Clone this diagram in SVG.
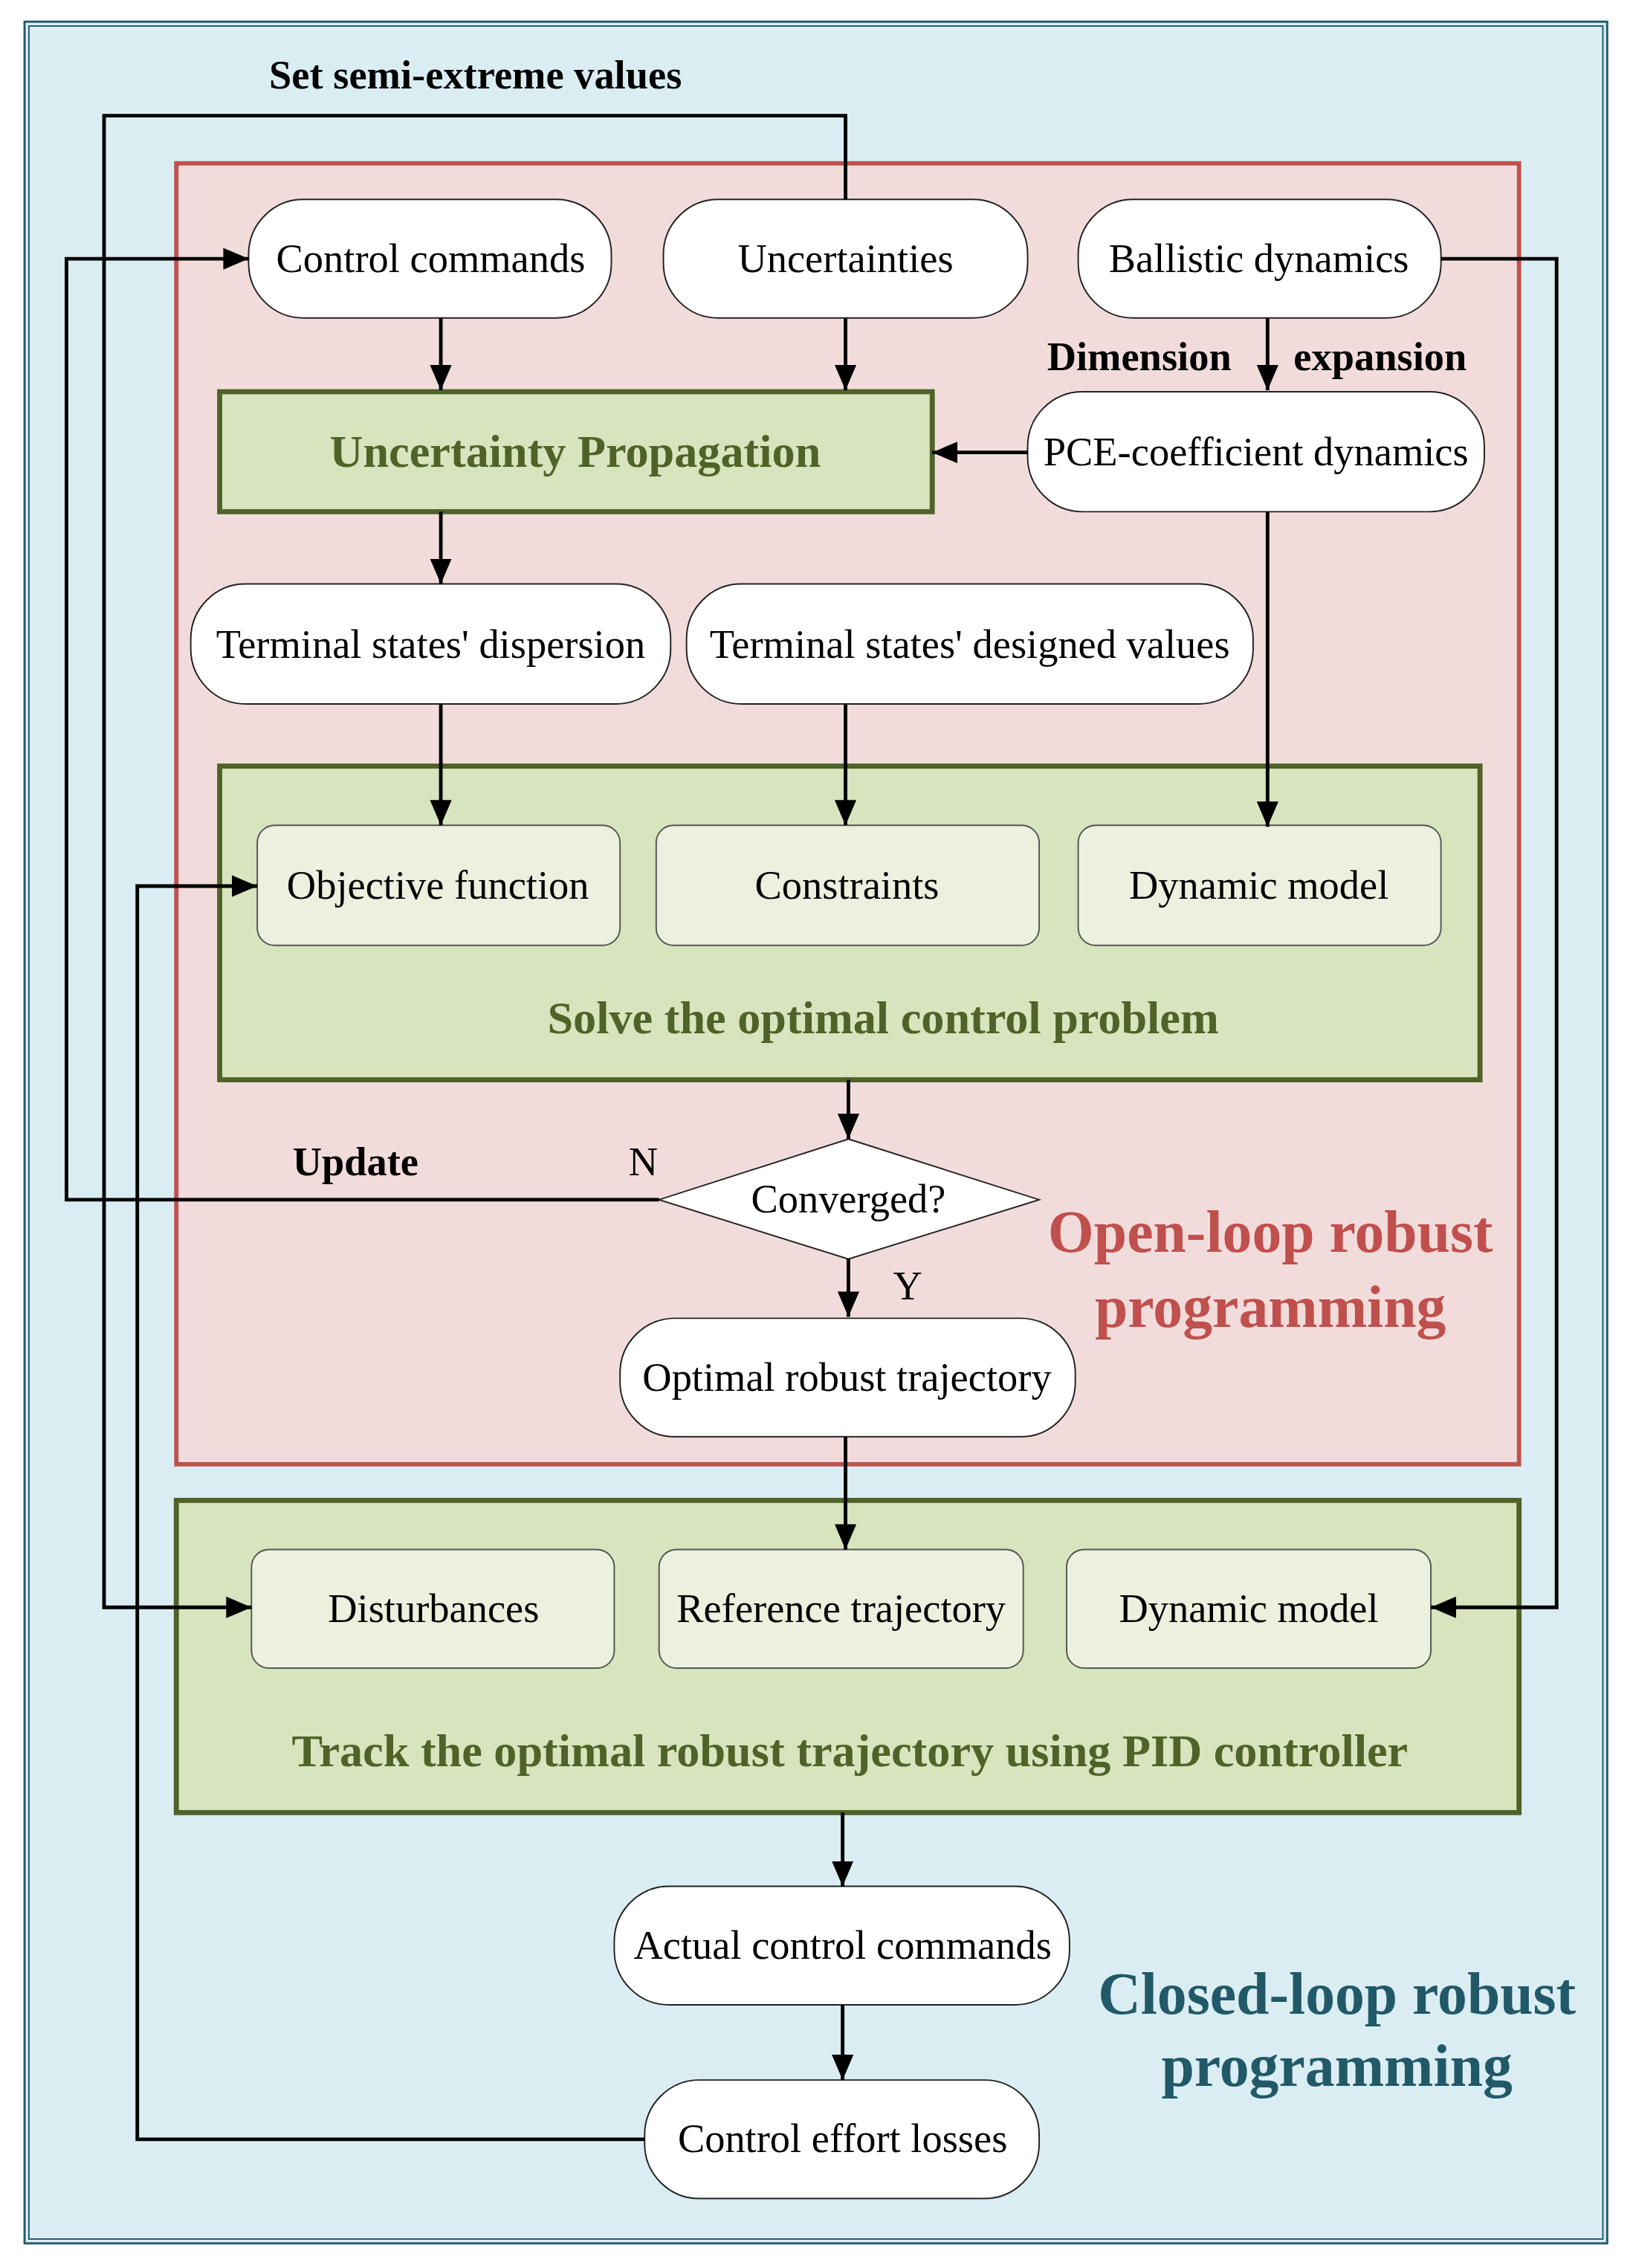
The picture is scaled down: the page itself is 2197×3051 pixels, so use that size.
<svg xmlns="http://www.w3.org/2000/svg" width="2197" height="3051" viewBox="0 0 2197 3051">
<style>
.t{font-family:"Liberation Serif","Times New Roman",serif;font-size:28px;fill:#000;text-anchor:middle}
.b{font-weight:bold}
.g{fill:#4f6228;font-weight:bold;font-size:32px}
.pill{fill:#fff;stroke:#222;stroke-width:1}
.sub{fill:#ebf1de;stroke:#555;stroke-width:1}
.grn{fill:#d7e4bd;stroke:#4f6228;stroke-width:3.5}
.c{fill:none;stroke:#000;stroke-width:2.5}
.big{font-size:41px;font-weight:bold}
</style>
<defs>
<marker id="a" markerWidth="7" markerHeight="6" refX="7" refY="3" orient="auto" markerUnits="strokeWidth">
<path d="M0,0 L7,3 L0,6 Z" fill="#000"/>
</marker>
</defs>
<rect width="2197" height="3051" fill="#fff"/>
<g transform="scale(1.9445)">
<g id="outer">
<rect x="17" y="15" width="1095" height="1537" fill="#daedf3" stroke="#215a6a" stroke-width="1.5"/>
<rect x="20" y="18" width="1089" height="1531" fill="none" stroke="#215a6a" stroke-width="1"/>
<text class="t big" x="925" y="1393" style="fill:#215968">Closed-loop robust</text>
<text class="t big" x="925" y="1443" style="fill:#215968">programming</text>
</g>
<g id="openloop">
<rect x="122" y="113" width="929" height="900" fill="#f2dcdb" stroke="#c0504d" stroke-width="3"/>
<text class="t big" x="879" y="866" style="fill:#c0504d">Open-loop robust</text>
<text class="t big" x="879" y="918" style="fill:#c0504d">programming</text>
</g>
<g id="n_control"><rect class="pill" x="172" y="138" width="251" height="82" rx="38"/><text class="t" x="298" y="188">Control commands</text></g>
<g id="n_uncert"><rect class="pill" x="459" y="138" width="252" height="82" rx="38"/><text class="t" x="585" y="188">Uncertainties</text></g>
<g id="n_ballistic"><rect class="pill" x="746" y="138" width="251" height="82" rx="38"/><text class="t" x="871" y="188">Ballistic dynamics</text></g>
<g id="n_up"><rect class="grn" x="152" y="271" width="493" height="83"/><text class="t g" x="398" y="323">Uncertainty Propagation</text></g>
<g id="n_pce"><rect class="pill" x="711" y="271" width="316" height="83" rx="38"/><text class="t" x="869" y="322">PCE-coefficient dynamics</text></g>
<g id="n_disp"><rect class="pill" x="132" y="404" width="332" height="83" rx="38"/><text class="t" x="298" y="455">Terminal states' dispersion</text></g>
<g id="n_design"><rect class="pill" x="475" y="404" width="392" height="83" rx="38"/><text class="t" x="671" y="455">Terminal states' designed values</text></g>
<g id="n_solve"><rect class="grn" x="152" y="530" width="872" height="217"/><text class="t g" x="611" y="715">Solve the optimal control problem</text></g>
<g id="n_obj"><rect class="sub" x="178" y="571" width="251" height="83" rx="12"/><text class="t" x="303" y="622">Objective function</text></g>
<g id="n_cons"><rect class="sub" x="454" y="571" width="265" height="83" rx="12"/><text class="t" x="586" y="622">Constraints</text></g>
<g id="n_dyn1"><rect class="sub" x="746" y="571" width="251" height="83" rx="12"/><text class="t" x="871" y="622">Dynamic model</text></g>
<g id="n_conv"><polygon points="587,788 719,830 587,871 456,830" fill="#fff" stroke="#222" stroke-width="1"/><text class="t" x="587" y="839">Converged?</text></g>
<g id="n_opt"><rect class="pill" x="429" y="912" width="315" height="82" rx="38"/><text class="t" x="586" y="962">Optimal robust trajectory</text></g>
<g id="n_track"><rect class="grn" x="122" y="1038" width="929" height="216"/><text class="t g" x="588" y="1222">Track the optimal robust trajectory using PID controller</text></g>
<g id="n_dist"><rect class="sub" x="174" y="1072" width="251" height="82" rx="12"/><text class="t" x="300" y="1122">Disturbances</text></g>
<g id="n_ref"><rect class="sub" x="456" y="1072" width="252" height="82" rx="12"/><text class="t" x="582" y="1122">Reference trajectory</text></g>
<g id="n_dyn2"><rect class="sub" x="738" y="1072" width="252" height="82" rx="12"/><text class="t" x="864" y="1122">Dynamic model</text></g>
<g id="n_actual"><rect class="pill" x="425" y="1305" width="315" height="82" rx="38"/><text class="t" x="583" y="1355">Actual control commands</text></g>
<g id="n_loss"><rect class="pill" x="446" y="1439" width="273" height="82" rx="38"/><text class="t" x="583" y="1489">Control effort losses</text></g>
<g id="connectors">
<path class="c" d="M585,138 V80 H72 V1112 H174" marker-end="url(#a)"/>
<path class="c" d="M305,220 V270" marker-end="url(#a)"/>
<path class="c" d="M585,220 V270" marker-end="url(#a)"/>
<path class="c" d="M877,220 V270" marker-end="url(#a)"/>
<path class="c" d="M997,179 H1077 V1112 H990" marker-end="url(#a)"/>
<path class="c" d="M711,313 H645" marker-end="url(#a)"/>
<path class="c" d="M877,354 V572" marker-end="url(#a)"/>
<path class="c" d="M305,354 V404" marker-end="url(#a)"/>
<path class="c" d="M305,487 V571" marker-end="url(#a)"/>
<path class="c" d="M585,487 V571" marker-end="url(#a)"/>
<path class="c" d="M587,747 V788" marker-end="url(#a)"/>
<path class="c" d="M456,830 H46 V179 H172" marker-end="url(#a)"/>
<path class="c" d="M587,871 V911" marker-end="url(#a)"/>
<path class="c" d="M585,994 V1072" marker-end="url(#a)"/>
<path class="c" d="M583,1254 V1305" marker-end="url(#a)"/>
<path class="c" d="M583,1387 V1439" marker-end="url(#a)"/>
<path class="c" d="M446,1480 H95 V613 H178" marker-end="url(#a)"/>
<text class="t b" x="329" y="61">Set semi-extreme values</text>
<text class="t b" x="852" y="256" style="text-anchor:end">Dimension</text>
<text class="t b" x="895" y="256" style="text-anchor:start">expansion</text>
<text class="t b" x="246" y="813">Update</text>
<text class="t" x="445" y="813">N</text>
<text class="t" x="628" y="899">Y</text>
</g>
</g>
</svg>
